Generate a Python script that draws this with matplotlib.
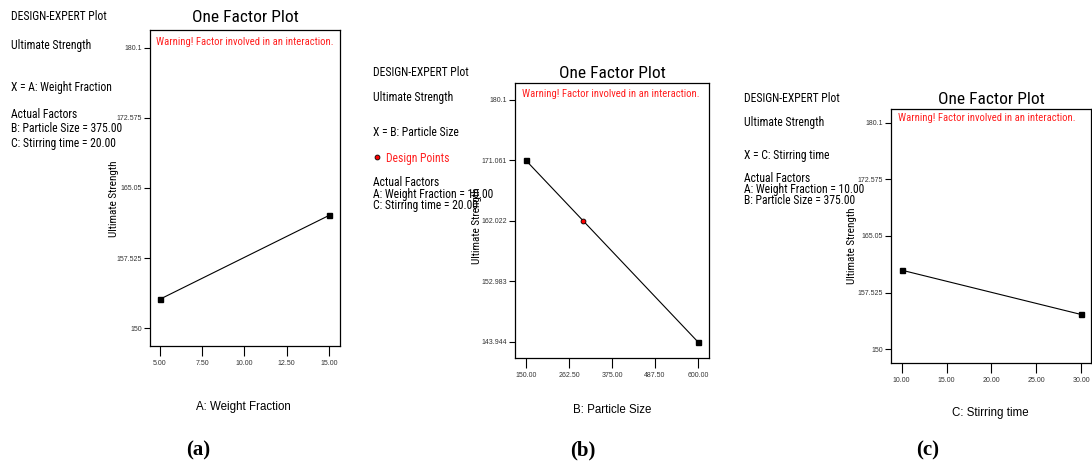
import matplotlib
matplotlib.use("Agg")
import matplotlib.pyplot as plt
from matplotlib import font_manager

# ---------------- data ----------------
xa = [5.0, 15.0]
ya = [153.1, 162.1]
xa_ticks = [5.0, 7.5, 10.0, 12.5, 15.0]
xa_ticklabels = ["5.00", "7.50", "10.00", "12.50", "15.00"]
ya_ticks = [150.0, 157.525, 165.05, 172.575, 180.1]
ya_ticklabels = ["150", "157.525", "165.05", "172.575", "180.1"]

xb = [150.0, 600.0]
yb = [171.061, 143.944]
xb_design = [300.0]
yb_design = [162.022]
xb_ticks = [150.0, 262.5, 375.0, 487.5, 600.0]
xb_ticklabels = ["150.00", "262.50", "375.00", "487.50", "600.00"]
yb_ticks = [143.944, 152.983, 162.022, 171.061, 180.1]
yb_ticklabels = ["143.944", "152.983", "162.022", "171.061", "180.1"]

xc = [10.0, 30.0]
yc = [160.5, 154.6]
xc_ticks = [10.0, 15.0, 20.0, 25.0, 30.0]
xc_ticklabels = ["10.00", "15.00", "20.00", "25.00", "30.00"]
yc_ticks = [150.0, 157.525, 165.05, 172.575, 180.1]
yc_ticklabels = ["150", "157.525", "165.05", "172.575", "180.1"]

info_a = ["DESIGN-EXPERT Plot", "Ultimate Strength", "X = A: Weight Fraction",
          "Actual Factors", "B: Particle Size = 375.00", "C: Stirring time = 20.00"]
info_b = ["DESIGN-EXPERT Plot", "Ultimate Strength", "X = B: Particle Size",
          "Actual Factors", "A: Weight Fraction = 10.00", "C: Stirring time = 20.00"]
info_c = ["DESIGN-EXPERT Plot", "Ultimate Strength", "X = C: Stirring time",
          "Actual Factors", "A: Weight Fraction = 10.00", "B: Particle Size = 375.00"]

# ---------------- fonts ----------------
names = {f.name for f in font_manager.fontManager.ttflist}
NARROW = "Roboto Condensed" if "Roboto Condensed" in names else "Liberation Sans"
SANS = "Liberation Sans"
SERIF = "Liberation Serif"

W, H = 1092, 465
fig = plt.figure(figsize=(W / 100, H / 100), dpi=100)


def fx(x):
    return x / W


def fy(y):
    return 1 - y / H


def txt(x, y, s, **kw):
    kw.setdefault("family", NARROW)
    kw.setdefault("va", "center")
    fig.text(fx(x), fy(y), s, **kw)


def make_axes(left, right, top, bottom, xlim, ylim, xt, xtl, yt, ytl):
    ax = fig.add_axes([fx(left), fy(bottom), (right - left) / W, (bottom - top) / H])
    ax.set_xlim(*xlim)
    ax.set_ylim(*ylim)
    ax.set_xticks(xt)
    ax.set_xticklabels(xtl, family=SANS, fontsize=5, color="#333333")
    ax.set_yticks(yt)
    ax.set_yticklabels(ytl, family=SANS, fontsize=5, color="#333333")
    ax.tick_params(axis="x", direction="out", length=7, width=0.8, pad=3)
    ax.tick_params(axis="y", direction="out", length=4, width=0.8, pad=2)
    for sp in ax.spines.values():
        sp.set_linewidth(0.9)
    return ax


def panel(cx, title_y, warn_x, warn_y):
    txt(cx, title_y, "One Factor Plot", fontsize=12.5, ha="center")
    txt(warn_x, warn_y, "Warning! Factor involved in an interaction.",
        fontsize=7.7, color="#ff2020", ha="left")


MK = dict(color="black", lw=0.8, marker="s", ms=3.6, mfc="black", mec="black")

# ---------------- panel (a) ----------------
axa = make_axes(150, 340, 30, 346, (4.41, 15.65), (148.07, 182.03),
                xa_ticks, xa_ticklabels, ya_ticks, ya_ticklabels)
axa.plot(xa, ya, **MK)
panel(245, 17, 156, 42)
ys_a = [17, 45, 87, 115, 128, 144]
for s, y in zip(info_a, ys_a):
    txt(11, y, s, fontsize=8.4)
txt(114, 199, "Ultimate Strength", fontsize=8, rotation=90, ha="center")
txt(243, 407, "A: Weight Fraction", family=SANS, fontsize=8.3, ha="center")
txt(198, 450, "(a)", family=SERIF, fontsize=15, weight="bold", ha="center")

# ---------------- panel (b) ----------------
axb = make_axes(515, 709, 83, 358, (121.2, 628.8), (141.55, 182.64),
                xb_ticks, xb_ticklabels, yb_ticks, yb_ticklabels)
axb.plot(xb, yb, **MK)
axb.plot(xb_design, yb_design, ls="none", marker="o", ms=3.5, mfc="red", mec="black", mew=0.6)
panel(612, 74, 522, 94)
ys_b = [73, 97, 133, 182, 194, 206]
for s, y in zip(info_b, ys_b):
    txt(373, y, s, fontsize=8.4)
fig.lines.append(plt.Line2D([fx(377)], [fy(157)], transform=fig.transFigure, ls="none",
                            marker="o", ms=3.5, mfc="red", mec="black", mew=0.6))
txt(386, 158, "Design Points", fontsize=8.4, color="#ff2020")
txt(477, 226, "Ultimate Strength", fontsize=8, rotation=90, ha="center")
txt(612, 410, "B: Particle Size", family=SANS, fontsize=8.3, ha="center")
txt(583, 450, "(b)", family=SERIF, fontsize=15, weight="bold", ha="center")

# ---------------- panel (c) ----------------
axc = make_axes(891, 1091, 109, 363, (8.81, 31.1), (148.14, 181.96),
                xc_ticks, xc_ticklabels, yc_ticks, yc_ticklabels)
axc.plot(xc, yc, **MK)
panel(991, 100, 898, 118)
ys_c = [98, 122, 156, 178, 189, 200]
for s, y in zip(info_c, ys_c):
    txt(744, y, s, fontsize=8.4)
txt(852, 246, "Ultimate Strength", fontsize=8, rotation=90, ha="center")
txt(990, 413, "C: Stirring time", family=SANS, fontsize=8.3, ha="center")
txt(928, 450, "(c)", family=SERIF, fontsize=15, weight="bold", ha="center")

fig.savefig("out.png", dpi=100)
